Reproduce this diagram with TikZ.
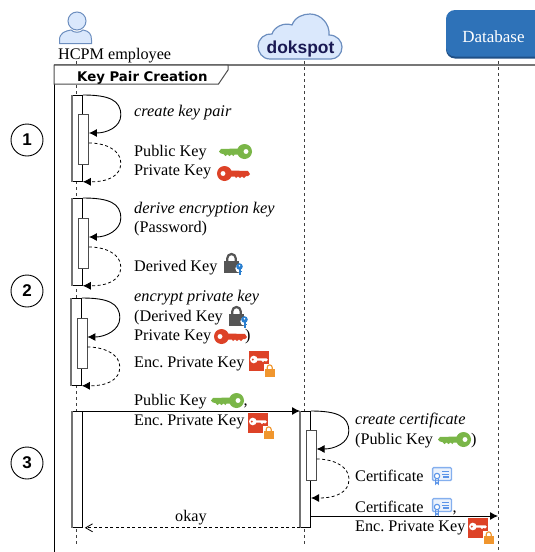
\documentclass[tikz,border=0pt]{standalone}
\usepackage{fontspec}
\setmainfont{Liberation Serif}
\newfontfamily\titlefont{DejaVu Sans}
\newfontfamily\helvfont{Liberation Sans}
\usetikzlibrary{arrows.meta,calc}
\definecolor{ucfill}{HTML}{DAE8FC}
\definecolor{ucline}{HTML}{6C8EBF}
\definecolor{keygreen}{HTML}{7AB648}
\definecolor{keyred}{HTML}{DD4227}
\definecolor{lockgrey}{HTML}{555555}
\definecolor{lockblue}{HTML}{2A7FD0}
\definecolor{lockorange}{HTML}{F0962E}
\definecolor{certblue}{HTML}{5B94E8}
\definecolor{dbblue}{HTML}{2E72B8}
\definecolor{dbdark}{HTML}{1F4F85}
\definecolor{framegrey}{HTML}{777777}
\frenchspacing
\tikzset{
  txt/.style={anchor=base west,inner sep=0pt,font=\fontsize{16.2}{18}\selectfont},
  ittxt/.style={txt,font=\fontsize{16.3}{18}\selectfont\itshape},
  lifeline/.style={draw=black!75,line width=.9pt,dash pattern=on 3pt off 3pt},
  outerbar/.style={draw=black,fill=white,line width=.8pt,minimum width=10pt,inner sep=0pt,anchor=north west},
  innerbar/.style={draw=black!70,fill=white,line width=.9pt,minimum width=10pt,minimum height=50pt,inner sep=0pt,anchor=north west},
  callsolid/.style={draw=black,line width=.9pt,-{Latex[length=8pt,width=8pt]}},
  calldash/.style={draw=black,line width=.8pt,dash pattern=on 3pt off 2.5pt,-{Latex[length=8pt,width=8pt]}},
  stepmark/.style={circle,draw=black,line width=.9pt,minimum size=32pt,inner sep=0pt,font=\helvfont\bfseries\fontsize{17}{19}\selectfont},
  pics/greenkey/.style={code={
    \fill[keygreen,even odd rule] (25.5,7.5) circle (7.5) (27,7.5) circle (2.6);
    \fill[keygreen] (0,7.5) -- (2,5) -- (19,4.5) -- (19,10.5) -- (15.5,10.5) -- (14.5,12) -- (12.5,10.5) -- (10.5,12) -- (8.5,10.5) -- (6.5,12) -- (4.5,10) -- (2,9.5) -- cycle;
  }},
  pics/redkey/.style={code={
    \fill[keyred,even odd rule] (7.5,7.5) circle (7.5) (6,7.5) circle (2.6);
    \fill[keyred] (33,8) -- (31,5) -- (14,4.5) -- (14,10.5) -- (18,10.5) -- (19,12) -- (21,10.5) -- (23,12) -- (25,10.5) -- (27,12) -- (29,10) -- (31,10) -- cycle;
  }},
  pics/lockicon/.style={code={
    \draw[lockgrey,line width=2.2pt] (3.3,9) -- (3.3,5.2) arc[start angle=180,end angle=360,radius=4.2] -- (11.7,9);
    \fill[lockgrey] (0,8) rectangle (15,20);
    \fill[white] (15.5,15.5) circle (4.2);
    \fill[lockblue] (15.5,13.5) circle (3.3);
    \fill[lockblue] (14.5,14) rectangle (16.5,21.5);
    \fill[lockblue] (16.5,18) rectangle (17.8,19.4);
    \fill[white] (15.5,12.8) circle (.9);
  }},
  pics/enckey/.style={code={
    \fill[keyred] (0,0) rectangle (20,20);
    \fill[white,even odd rule] (4.8,8.5) circle (3.8) (3.8,8.5) circle (1.3);
    \fill[white] (8,7.4) -- (17.5,7.4) -- (19,8.8) -- (17,10.5) -- (15.5,9.6) -- (14,11) -- (12.5,9.6) -- (8,9.6) -- cycle;
    \fill[white] (15,13) rectangle (26,26);
    \draw[lockorange,line width=1.1pt] (18.2,18) -- (18.2,16.4) arc[start angle=180,end angle=360,radius=2.5] -- (23.2,18);
    \fill[lockorange] (16,18) rectangle (25.5,25.5);
  }},
  pics/certicon/.style={code={
    \draw[certblue!75,fill=certblue!12,line width=1.3pt,rounded corners=1pt] (.6,.6) rectangle (19.4,13.5);
    \draw[certblue,line width=1.1pt] (10,4.5) -- (17,4.5) (10,7.2) -- (17,7.2) (11,10) -- (17,10);
    \draw[certblue,fill=white,line width=1.1pt] (5,9) circle (2.7);
    \draw[certblue,line width=1.1pt] (3.6,12) -- (3.6,17) -- (5,15.6) -- (6.4,17) -- (6.4,12);
  }},
}
% \SelfCall{outer}{inner}{return end}: the solid call and the dashed return of one activation
\newcommand{\SelfCall}[3]{%
  \draw[black!55,line width=1.6pt] (#1.north west) -- (#1.south west);
  \path (#1.north east) ++(38,20) coordinate (#1pa);
  \path (#2.north east) ++(0,19) coordinate (#1to);
  \path (#2.north east) ++(0,29) coordinate (#1from);
  \path (#3) ++(38,-19) coordinate (#1pb);
  \draw[callsolid] (#1.north east) .. controls ($(#1.north east)+(26,0)$) and ($(#1pa)+(0,-15)$) .. (#1pa)
     .. controls ($(#1pa)+(0,12)$) and ($(#1to)+(18,0)$) .. (#1to);
  \draw[calldash] (#1from) .. controls ($(#1from)+(18,0)$) and ($(#1pb)+(0,-12)$) .. (#1pb)
     .. controls ($(#1pb)+(0,13)$) and ($(#3)+(26,0)$) .. (#3);
}
\begin{document}
\begin{tikzpicture}[x=1pt,y=-1pt]
\useasboundingbox (0,0) rectangle (535,552);
% lifeline ends
\coordinate (emptop) at (76.5,61);
\coordinate (empbot) at (76.5,544);
\coordinate (doktop) at (304.5,61);
\coordinate (dokbot) at (304.5,544);
\coordinate (dbtop) at (498,61);
\coordinate (dbbot) at (498,552);
\draw[lifeline] (emptop) -- (empbot);
\draw[lifeline] (doktop) -- (dokbot);
\draw[lifeline] (dbtop) -- (dbbot);
% participants
\fill[ucfill,draw=ucline,line width=1pt] (59.5,43.5) -- (59.5,40) .. controls (59.5,33) and (65,31) .. (71,30) .. controls (74,33) and (80,33) .. (83,30) .. controls (89,31) and (91.5,34) .. (91.5,40) -- (91.5,43.5) -- cycle;
\draw[ucline,fill=ucfill,line width=1pt] (77,21) circle (9);
\node[txt] (emp) at (58,59) {HCPM employee};
\draw[ucline,fill=ucfill,line width=1.2pt] (270,59) .. controls (262,59) and (258,52) .. (258,46) .. controls (258,39) and (265,33) .. (272,34) .. controls (274,27) and (284,22) .. (292,25) .. controls (295,17) and (303,14) .. (310,14) .. controls (321,14) and (330,24) .. (329,35) .. controls (337,35) and (342,41) .. (342,47) .. controls (342,54) and (337,59) .. (331,59) -- cycle;
\node[anchor=base,inner sep=0pt,text=black!75!blue!90,font=\helvfont\bfseries\fontsize{17.4}{19}\selectfont] (dok) at (300.5,53) {dokspot};
\fill[dbdark,rounded corners=9pt] (446,12) rectangle (545,58.5);
\fill[dbblue,rounded corners=9pt] (446,10) rectangle (545,56.5);
\node[anchor=base,inner sep=0pt,text=white,font=\fontsize{17}{19}\selectfont] (db) at (493.5,42) {Database};
% frame
\draw[framegrey,line width=1.5pt] (54,65) -- (535,65);
\draw[black,line width=.9pt] (54,65) -- (54,552);
\draw[black!70,line width=1pt,fill=white] (54,84) -- (218.5,84) -- (228,70) -- (228,65) -- (54,65) -- cycle;
\node[anchor=base west,inner sep=0pt,font=\titlefont\bfseries\fontsize{13.3}{15}\selectfont] (title) at (77,81) {Key Pair Creation};
% step marks
\node[stepmark] (s1) at (27,140) {1};
\node[stepmark] (s2) at (27,291) {2};
\node[stepmark] (s3) at (27,463) {3};
% activations
\node[outerbar,minimum height=86pt] (a1) at (72,95) {};
\node[innerbar] (b1) at (78,114) {};
\SelfCall{a1}{b1}{a1.south east}
\node[outerbar,minimum height=87pt] (a2) at (72,198) {};
\node[innerbar] (b2) at (78,218) {};
\SelfCall{a2}{b2}{a2.south east}
\node[outerbar,minimum height=87pt] (a3) at (71,298) {};
\node[innerbar] (b3) at (76.5,318) {};
\SelfCall{a3}{b3}{a3.south east}
\node[outerbar,minimum height=116pt] (a4) at (72,411) {};
\draw[black!55,line width=1.6pt] (a4.north west) -- (a4.south west);
\node[outerbar,minimum height=116pt] (a5) at (300,411) {};
\node[innerbar] (b5) at (305.7,430) {};
\coordinate (a5ret) at (311,498);
\SelfCall{a5}{b5}{a5ret}
% messages
\draw[callsolid] (a4.north east) -- (a5.north west);
\draw[black,line width=.8pt,dash pattern=on 3pt off 2.5pt,-{Straight Barb[length=7pt,width=8pt]}] (a5.south west) -- ($(a4.south east)+(2,0)$);
\coordinate (dbmsg) at (498,516);
\draw[callsolid] (a5.east |- dbmsg) -- (dbmsg);
% texts
\node[ittxt] (t1) at (134,116.7) {create key pair};
\node[txt] (t2) at (134,156) {Public Key};
\node[txt] (t3) at (134,175) {Private Key};
\node[ittxt] (t4) at (134,213) {derive encryption key};
\node[txt] (t5) at (134,232.7) {(Password)};
\node[txt] (t6) at (134,271) {Derived Key};
\node[ittxt] (t7) at (134,301.7) {encrypt private key};
\node[txt] (t8) at (134,321) {(Derived Key};
\node[txt] (t9) at (134,340.7) {Private Key};
\node[txt] (t10) at (245,340.7) {)};
\node[txt] (t11) at (134,367.7) {Enc. Private Key};
\node[txt] (t12) at (134,405.7) {Public Key};
\node[txt] (t13) at (243.5,405.7) {,};
\node[txt] (t14) at (134,425) {Enc. Private Key};
\node[txt] (t15) at (175,521) {okay};
\node[ittxt] (t16) at (355,424) {create certificate};
\node[txt] (t17) at (355,444) {(Public Key};
\node[txt] (t18) at (471,444) {)};
\node[txt] (t19) at (355,481.7) {Certificate};
\node[txt] (t20) at (355,512) {Certificate};
\node[txt] (t21) at (452.5,512) {,};
\node[txt] (t22) at (355,531.7) {Enc. Private Key};
% icons
\pic at (219,144) {greenkey};
\pic at (217,166) {redkey};
\pic at (224,253) {lockicon};
\pic at (229,306) {lockicon};
\pic at (214,329) {redkey};
\pic at (249,351) {enckey};
\pic at (211,393) {greenkey};
\pic at (248,413) {enckey};
\pic at (438,432) {greenkey};
\pic at (432,467) {certicon};
\pic at (432,498) {certicon};
\pic at (468,518) {enckey};
\end{tikzpicture}
\end{document}
